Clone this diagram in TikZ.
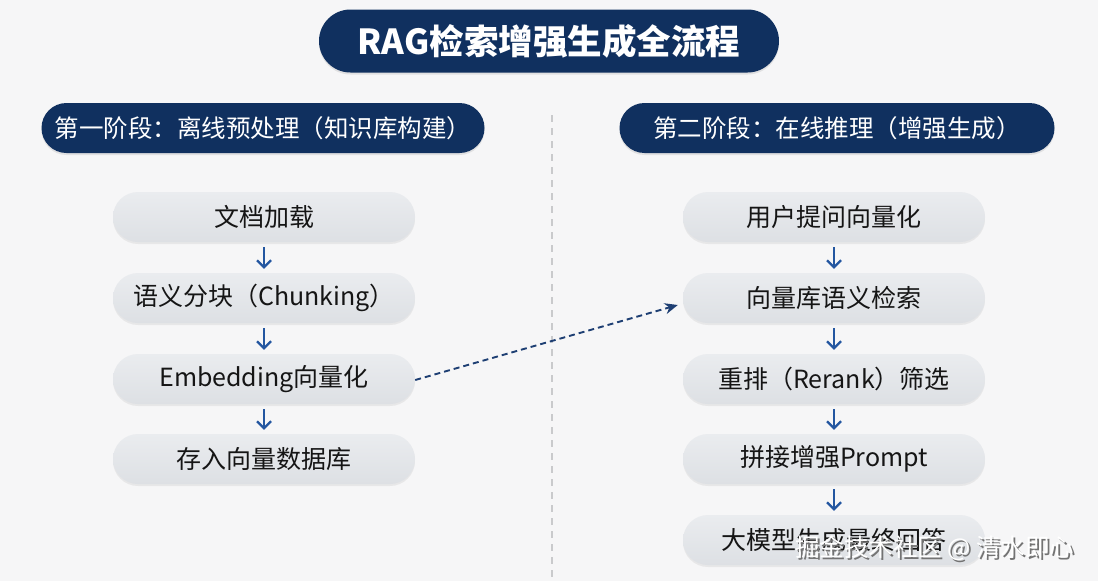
\documentclass[tikz,border=0pt]{standalone}
\usepackage{fontspec}
\setmainfont{Noto Sans CJK SC}
\usetikzlibrary{arrows.meta,shadows,calc}
\definecolor{bgc}{HTML}{F6F6F7}
\definecolor{navy}{HTML}{10305F}
\definecolor{boxtop}{HTML}{EAECEF}
\definecolor{boxbot}{HTML}{DDE0E4}
\definecolor{arrowblue}{HTML}{2356A0}
\definecolor{dashblue}{HTML}{1E3F73}
\definecolor{divgray}{HTML}{C9CACC}
\definecolor{txt}{HTML}{151515}
\tikzset{
  pill/.style={fill=navy, text=white, inner sep=0pt, drop shadow={opacity=0.18, shadow xshift=0pt, shadow yshift=-2pt}},
  stepbox/.style={top color=boxtop, bottom color=boxbot, draw=none, text=txt,
    minimum width=302pt, minimum height=50pt, rounded corners=25pt, inner sep=0pt,
    font=\fontsize{25}{28}\selectfont,
    drop shadow={opacity=0.12, shadow xshift=0pt, shadow yshift=-2pt}},
  flow/.style={draw=arrowblue, line width=2.2pt, -{Straight Barb[length=7pt,width=14pt,line width=2.2pt]}, shorten <=5pt, shorten >=4pt},
  link/.style={draw=dashblue, line width=1.9pt, dash pattern=on 6pt off 4pt, -{Stealth[length=13pt,width=11pt]}}
}
\begin{document}
\begin{tikzpicture}[x=1pt,y=-1pt]
\useasboundingbox (0,0) rectangle (1098,581);
\fill[bgc] (0,0) rectangle (1098,581);

% divider
\draw[divgray, line width=1.3pt, dash pattern=on 7pt off 6pt] (552,115) -- (552,581);

% title
\node[pill, minimum width=460pt, minimum height=63pt, rounded corners=31.5pt,
  font=\fontsize{34.5}{38}\selectfont\bfseries] (title) at (549,41) {RAG检索增强生成全流程};

% stage headers
\node[pill, minimum width=443pt, minimum height=50pt, rounded corners=25pt,
  font=\fontsize{24.5}{27}\selectfont] (h1) at (263,128) {第一阶段：离线预处理（知识库构建）};
\node[pill, minimum width=435pt, minimum height=50pt, rounded corners=25pt,
  font=\fontsize{24.5}{27}\selectfont] (h2) at (837,128) {第二阶段：在线推理（增强生成）};

% left column
\node[stepbox] (l1) at (264,217) {文档加载};
\node[stepbox] (l2) at (264,298) {语义分块（Chunking）};
\node[stepbox] (l3) at (264,379) {Embedding向量化};
\node[stepbox] (l4) at (264,459) {存入向量数据库};

% right column
\node[stepbox] (r1) at (834,217) {用户提问向量化};
\node[stepbox] (r2) at (834,298) {向量库语义检索};
\node[stepbox] (r3) at (834,379) {重排（Rerank）筛选};
\node[stepbox] (r4) at (834,459) {拼接增强Prompt};
\node[stepbox] (r5) at (834,540) {大模型生成最终回答};

\draw[flow] (l1) -- (l2);
\draw[flow] (l2) -- (l3);
\draw[flow] (l3) -- (l4);
\draw[flow] (r1) -- (r2);
\draw[flow] (r2) -- (r3);
\draw[flow] (r3) -- (r4);
\draw[flow] (r4) -- (r5);

\coordinate (dstart) at ($(l3.east)+(0,1)$);
\coordinate (dend) at ($(r2.west)+(-5,7)$);
\draw[link] (dstart) -- (dend);

% watermark
\node[text=black!55, font=\fontsize{24.5}{27}\selectfont, anchor=east] (wms) at (1079.8,549.8) {掘金技术社区 @ 清水即心};
\node[text=white, font=\fontsize{24.5}{27}\selectfont, anchor=east] (wm) at (1078,548) {掘金技术社区 @ 清水即心};
\end{tikzpicture}
\end{document}
